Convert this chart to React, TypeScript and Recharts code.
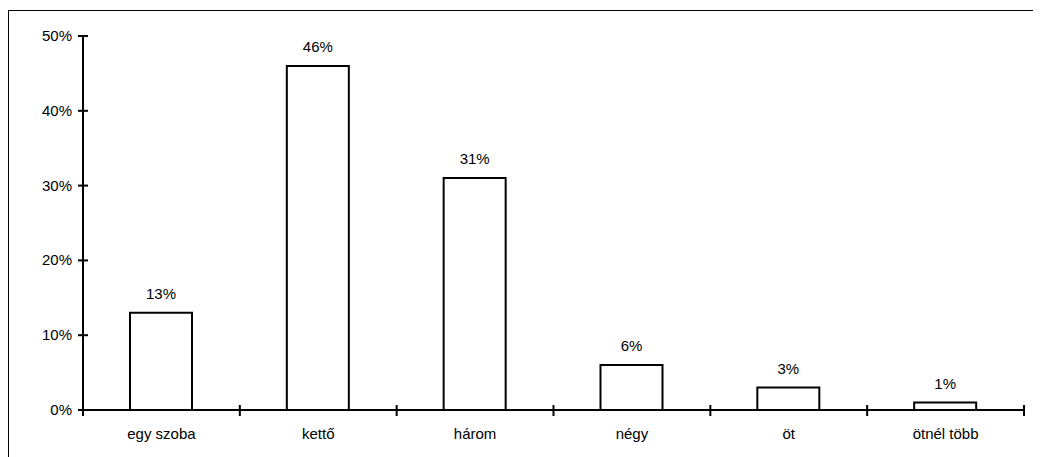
import React from 'react';
import { BarChart, Bar, XAxis, YAxis, LabelList } from 'recharts';

const rooms = ['egy szoba', 'kettő', 'három', 'négy', 'öt', 'ötnél több'];
const shares = [13, 46, 31, 6, 3, 1];
const yTicks = [0, 10, 20, 30, 40, 50];

const data = rooms.map((room, i) => ({ room, share: shares[i] }));

const font = "'Liberation Sans', Arial, sans-serif";

function YTick({ x, y, payload }: any) {
  return (
    <g>
      <line x1={x - 5} x2={x + 5} y1={y} y2={y} stroke="#000" strokeWidth={2} />
      <text x={x - 11} y={y} dy={5} textAnchor="end" fontSize={15} fontFamily={font} fill="#000">
        {payload.value}%
      </text>
    </g>
  );
}

// category label plus boundary marks at the edges of each band
function RoomTick({ x, y, payload, index }: any) {
  const half = payload.offset || 0;
  return (
    <g>
      {index === 0 && (
        <line x1={x - half} x2={x - half} y1={y - 5} y2={y + 6} stroke="#000" strokeWidth={2} />
      )}
      <line x1={x + half} x2={x + half} y1={y - 5} y2={y + 6} stroke="#000" strokeWidth={2} />
      <text x={x} y={y} dy={29} textAnchor="middle" fontSize={15} fontFamily={font} fill="#000">
        {payload.value}
      </text>
    </g>
  );
}

export default function App() {
  return (
    <div style={{ position: 'relative', width: 1033, height: 449 }}>
      <div
        style={{
          position: 'absolute',
          top: 2,
          left: 0,
          width: 1033,
          height: 447,
          borderTop: '1px solid #000',
          borderLeft: '1px solid #000',
          boxSizing: 'border-box',
        }}
      />
      <div style={{ position: 'absolute', top: 0, left: 0 }}>
        <BarChart
          width={1033}
          height={449}
          data={data}
          margin={{ top: 28, right: 17, bottom: 7, left: 0 }}
          barSize={62}
        >
          <XAxis
            dataKey="room"
            height={40}
            axisLine={{ stroke: '#000', strokeWidth: 2 }}
            tickLine={false}
            tickSize={0}
            tickMargin={0}
            tick={<RoomTick />}
            interval={0}
          />
          <YAxis
            width={75}
            domain={[0, 50]}
            ticks={yTicks}
            axisLine={{ stroke: '#000', strokeWidth: 2 }}
            tickLine={false}
            tickSize={0}
            tickMargin={0}
            tick={<YTick />}
            interval={0}
          />
          <Bar dataKey="share" fill="#fff" stroke="#000" strokeWidth={2} isAnimationActive={false}>
            <LabelList
              dataKey="share"
              position="top"
              offset={14}
              formatter={(v: any) => `${v}%`}
              style={{ fontSize: 15, fontFamily: font, fill: '#000' }}
            />
          </Bar>
        </BarChart>
      </div>
    </div>
  );
}
